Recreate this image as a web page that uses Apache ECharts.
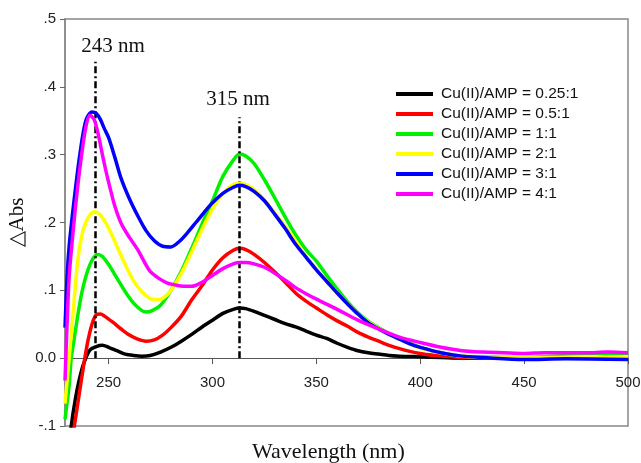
<!DOCTYPE html>
<html>
<head>
<meta charset="utf-8">
<script src="https://cdn.jsdelivr.net/npm/echarts@6/dist/echarts.min.js"></script>
<style>
  html, body { margin: 0; padding: 0; background: #fff; }
  #chart { width: 641px; height: 463px; }
</style>
</head>
<body>
<div id="chart"></div>
<script>
// wavelength (nm) / delta Abs
const wlBlack = [229,232,234,236,238,241,244,247,250,254,258,262,266,270,275,280,285,290,295,300,305,310,313,316,320,325,330,335,340,345,350,355,360,365,370,375,380,385,390,400,410,420,440,460,480,500];
const absBlack = [-0.18,-0.10,-0.06,-0.03,-0.008,0.012,0.017,0.019,0.016,0.011,0.006,0.004,0.003,0.004,0.009,0.016,0.025,0.035,0.046,0.056,0.066,0.072,0.074,0.073,0.069,0.063,0.057,0.051,0.046,0.040,0.034,0.029,0.022,0.016,0.011,0.008,0.006,0.004,0.003,0.002,0.001,0,0,0,0,0];

const wlRed = [229,232,234,236,238,240,242,244,246,248,252,256,260,264,268,272,276,280,285,290,295,300,305,310,313,316,320,325,330,335,340,345,350,355,360,365,370,375,380,385,390,395,400,410,420,440,460,480,500];
const absRed = [-0.20,-0.13,-0.09,-0.05,-0.01,0.025,0.05,0.064,0.065,0.062,0.053,0.043,0.034,0.028,0.025,0.027,0.034,0.045,0.062,0.086,0.107,0.130,0.148,0.159,0.162,0.160,0.153,0.141,0.127,0.112,0.096,0.084,0.074,0.064,0.055,0.047,0.038,0.031,0.025,0.019,0.014,0.010,0.007,0.003,0.001,0,0,0,0];

const wlGreen = [229,231,232,233,235,237,239,241,243,245,247,250,254,258,262,266,268,271,275,280,285,290,295,300,305,310,313,316,320,325,330,335,340,345,350,355,360,365,370,375,380,385,390,395,400,410,420,430,450,470,490,500];
const absGreen = [-0.09,-0.04,0.0,0.02,0.06,0.095,0.12,0.138,0.149,0.153,0.150,0.138,0.118,0.098,0.081,0.070,0.068,0.070,0.078,0.100,0.128,0.162,0.198,0.232,0.268,0.292,0.301,0.298,0.287,0.263,0.236,0.208,0.182,0.160,0.143,0.122,0.102,0.083,0.067,0.054,0.045,0.036,0.029,0.022,0.016,0.008,0.003,0.002,0.001,0.004,0.006,0.005];

const wlYellow = [229,231,233,235,237,239,241,243,245,247,250,254,258,262,266,270,273,276,280,285,290,295,300,305,310,313,316,320,325,330,335,340,345,350,355,360,365,370,375,380,385,390,395,400,410,420,440,460,480,500];
const absYellow = [-0.067,0.0,0.07,0.14,0.18,0.20,0.211,0.216,0.214,0.207,0.192,0.165,0.138,0.114,0.098,0.088,0.086,0.088,0.100,0.125,0.157,0.190,0.220,0.243,0.256,0.258,0.256,0.249,0.233,0.214,0.194,0.173,0.150,0.131,0.113,0.096,0.080,0.065,0.053,0.044,0.035,0.028,0.021,0.015,0.008,0.003,0.001,0.001,0.002,0.002];

const wlBlue = [229,230,231,233,236,239,242,244,246,248,250,253,256,260,264,268,272,276,280,284,288,292,296,300,305,310,313,316,320,325,330,335,340,345,350,355,360,365,370,375,380,385,390,395,400,410,420,430,450,470,500];
const absBlue = [0.045,0.12,0.165,0.223,0.297,0.35,0.363,0.361,0.352,0.338,0.325,0.296,0.265,0.235,0.21,0.188,0.173,0.165,0.164,0.172,0.185,0.200,0.215,0.229,0.243,0.252,0.255,0.253,0.246,0.232,0.212,0.191,0.168,0.149,0.130,0.113,0.096,0.080,0.065,0.052,0.043,0.035,0.028,0.021,0.016,0.008,0.003,0.001,-0.002,-0.001,-0.002];

const wlMagenta = [229,230,231,233,235,237,239,241,243,245,247,249,251,253,256,260,264,267,270,274,278,282,286,290,295,300,305,310,313,316,320,325,330,335,340,345,350,360,370,380,390,400,410,420,430,440,450,460,470,480,490,500];
const absMagenta = [-0.033,0.05,0.12,0.19,0.25,0.30,0.34,0.358,0.352,0.33,0.30,0.272,0.247,0.224,0.199,0.178,0.16,0.143,0.128,0.118,0.111,0.108,0.106,0.106,0.112,0.122,0.132,0.139,0.141,0.141,0.139,0.134,0.125,0.115,0.104,0.095,0.087,0.072,0.056,0.043,0.031,0.023,0.016,0.011,0.009,0.008,0.007,0.008,0.008,0.008,0.009,0.008];

const seriesNames = ['Cu(II)/AMP = 0.25:1','Cu(II)/AMP = 0.5:1','Cu(II)/AMP = 1:1','Cu(II)/AMP = 2:1','Cu(II)/AMP = 3:1','Cu(II)/AMP = 4:1'];
const seriesColors = ['#000000','#ff0000','#00f000','#ffff00','#0000ff','#ff00ff'];
const xTicks = [250,300,350,400,450,500];
const peakLines = [{ wl: 243.5, top: 0.437 }, { wl: 313, top: 0.355 }];

const wlAll = [wlBlack, wlRed, wlGreen, wlYellow, wlBlue, wlMagenta];
const absAll = [absBlack, absRed, absGreen, absYellow, absBlue, absMagenta];

const zip = (xs, ys) => xs.slice(0, Math.min(xs.length, ys.length)).map((x, i) => [x, ys[i]]);

const chart = echarts.init(document.getElementById('chart'), null, { renderer: 'canvas' });

const series = seriesNames.map((name, i) => ({
  name,
  type: 'line',
  data: zip(wlAll[i], absAll[i]),
  showSymbol: false,
  smooth: 0.3,
  lineStyle: { width: 3.5, color: seriesColors[i] },
  itemStyle: { color: seriesColors[i] },
  z: 2 + i
}));

// dash-dot peak markers
series.push({
  type: 'line',
  data: [],
  silent: true,
  z: 10,
  markLine: {
    symbol: 'none',
    silent: true,
    label: { show: false },
    lineStyle: { color: '#000', width: 2.5, type: [7, 3, 2, 3] },
    data: peakLines.map(p => [{ coord: [p.wl, 0] }, { coord: [p.wl, p.top] }])
  }
});

// x axis sits on the zero line: 0.1 of the y range is 68px
const zeroOffset = -68;

chart.setOption({
  animation: false,
  backgroundColor: '#fff',
  grid: {
    left: 65, top: 19, right: 13, bottom: 37,
    outerBoundsMode: 'none',
    show: true, borderColor: '#888', borderWidth: 1.5
  },
  legend: {
    orient: 'vertical',
    left: 391,
    top: 81,
    icon: 'rect',
    itemWidth: 37,
    itemHeight: 4,
    itemGap: 4,
    data: seriesNames,
    textStyle: { fontFamily: 'Liberation Sans, Arial', fontSize: 15.5, lineHeight: 16, color: '#111', padding: [0, 0, 0, 3] }
  },
  xAxis: {
    type: 'value',
    min: 229,
    max: 500,
    offset: zeroOffset,
    axisLine: { onZero: false, lineStyle: { color: '#555', width: 1.2 } },
    axisTick: { length: 6, lineStyle: { color: '#555' }, customValues: xTicks },
    axisLabel: { margin: 17, fontSize: 15, color: '#222', fontFamily: 'Liberation Sans, Arial', customValues: xTicks },
    splitLine: { show: false }
  },
  yAxis: {
    type: 'value',
    min: -0.1,
    max: 0.5,
    interval: 0.1,
    name: '△Abs',
    nameLocation: 'middle',
    nameRotate: 90,
    nameGap: 37,
    nameMoveOverlap: false,
    nameTextStyle: { fontFamily: 'Liberation Serif, Times New Roman', fontSize: 21, color: '#111' },
    axisLine: { show: true, lineStyle: { color: '#888', width: 1.5 } },
    axisTick: { length: 5, lineStyle: { color: '#666' } },
    axisLabel: {
      margin: 9,
      fontSize: 15,
      color: '#222',
      fontFamily: 'Liberation Sans, Arial',
      formatter: v => Math.abs(v) < 1e-9 ? '0.0' : v.toFixed(1).replace('0.', '.')
    },
    splitLine: { show: false }
  },
  graphic: [
    { type: 'text', left: 252, top: 441, style: { text: 'Wavelength (nm)', font: '22px "Liberation Serif", "Times New Roman", serif', fill: '#111' } },
    { type: 'text', x: 113, y: 46, style: { text: '243 nm', font: '21px "Liberation Serif", "Times New Roman", serif', fill: '#111', textAlign: 'center', textVerticalAlign: 'middle' } },
    { type: 'text', x: 238, y: 99, style: { text: '315 nm', font: '21px "Liberation Serif", "Times New Roman", serif', fill: '#111', textAlign: 'center', textVerticalAlign: 'middle' } }
  ],
  series
});
</script>
</body>
</html>
